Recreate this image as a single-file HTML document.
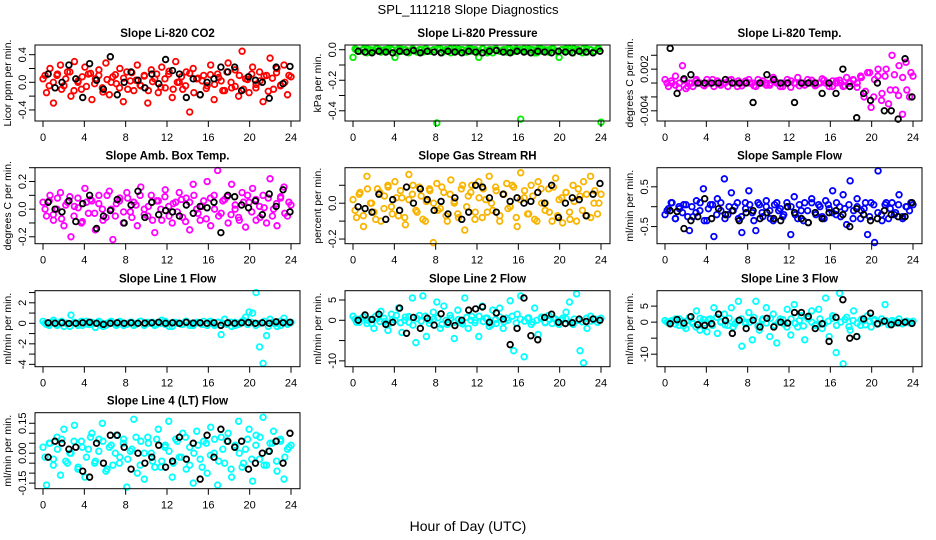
<!DOCTYPE html>
<html><head><meta charset="utf-8"><title>SPL_111218 Slope Diagnostics</title>
<style>
html,body{margin:0;padding:0;background:#fff;}
svg{display:block;font-family:"Liberation Sans",Arial,sans-serif;}
</style></head>
<body>
<svg id="chart" width="936" height="540" viewBox="0 0 936 540">
<text x="468" y="14" text-anchor="middle" font-size="13">SPL_111218  Slope Diagnostics</text>
<text x="468" y="531" text-anchor="middle" font-size="14">Hour of Day (UTC)</text>
</svg>
<script>
// ---- data ----
const hourTicks = [0, 4, 8, 12, 16, 20, 24];
const hourTickLabels = ["0", "4", "8", "12", "16", "20", "24"];

const co2Color = [0.05,-0.15,0.2,-0.3,0.1,0.25,-0.05,0.15,-0.2,0.3,0.0,-0.1,0.22,0.12,-0.25,0.05,0.18,-0.08,0.28,-0.18,0.08,-0.02,0.2,-0.28,0.15,0.02,-0.12,0.25,-0.05,0.1,-0.3,0.18,0.05,-0.15,0.22,-0.08,0.12,-0.22,0.3,0.0,-0.1,0.15,-0.43,0.2,0.05,-0.18,0.1,-0.05,0.25,-0.25,0.12,0.02,-0.12,0.28,-0.08,0.18,-0.2,0.45,0.05,-0.15,0.22,-0.03,0.15,-0.28,0.1,0.35,-0.1,0.2,-0.05,0.25,-0.18,0.08];
const co2Color2 = [0.1,-0.05,0.0,0.12,-0.1,0.05,0.15,-0.12,0.02,0.08,-0.06,0.13,-0.02,0.1,-0.14,0.04,0.0,0.11,-0.08,0.06,-0.1,0.14,0.03,-0.04,0.09,-0.12,0.01,0.12,-0.07,0.05,0.16,-0.1,0.0,0.08,-0.05,0.13,-0.15,0.06,0.02,-0.09,0.11,-0.03,0.07,-0.12,0.15,0.0,-0.06,0.1,-0.1,0.04,0.12,-0.08,0.02,0.09,-0.13,0.06,0.14,-0.04,0.0,0.1];
const co2Black = [0.12,-0.08,0.0,0.25,0.05,-0.22,0.27,0.03,-0.1,0.37,-0.18,0.0,0.15,0.03,-0.08,0.12,-0.02,0.33,0.17,0.12,-0.22,0.05,-0.18,0.0,0.05,0.22,0.15,0.22,-0.12,0.08,0.03,0.0,-0.23,0.22,-0.02,0.23];

const presColor = [-0.05,0.0,-0.01,0.005,-0.02,0.0,-0.01,0.005,-0.015,0.0,-0.01,0.005,-0.05,0.005,-0.01,0.0,-0.02,0.005,-0.01,0.0,-0.015,0.005,-0.01,0.0,-0.48,0.005,-0.01,0.0,-0.02,0.005,-0.01,0.0,-0.015,0.005,-0.01,0.0,-0.05,0.005,-0.01,0.0,-0.02,0.005,-0.01,0.0,-0.015,0.005,-0.01,0.0,-0.455,0.005,-0.01,0.0,-0.02,0.005,-0.01,0.0,-0.015,0.005,-0.01,-0.05,0.0,-0.01,0.005,-0.02,0.0,-0.01,0.005,-0.015,0.0,-0.01,0.005,-0.475];
const presColor2 = [0.005,-0.01,0.0,0.005,-0.015,0.005,0.0,-0.01,0.005,0.0,-0.02,0.005,0.0,-0.01,0.005,-0.015,0.0,0.005,-0.01,0.0,0.005,-0.02,0.0,0.005,-0.01,0.005,0.0,-0.015,0.005,0.0,-0.01,0.005,-0.02,0.0,0.005,-0.01,0.0,0.005,-0.015,0.005,0.0,-0.01,0.005,0.0,-0.02,0.005,-0.01,0.0,0.005,-0.015,0.0,0.005,-0.01,0.005,0.0,-0.02,0.005,0.0,-0.01,0.005];
const presBlack = [-0.01,-0.015,-0.02,-0.01,-0.015,-0.02,-0.01,-0.015,-0.005,-0.02,-0.01,-0.015,-0.02,-0.01,-0.015,-0.02,-0.01,-0.015,-0.02,-0.01,-0.005,-0.015,-0.02,-0.01,-0.015,-0.02,-0.01,-0.015,-0.02,-0.01,-0.015,-0.02,-0.01,-0.015,-0.02,-0.01];

const tempColor = [0.0005,-0.0005,0,0.001,-0.0007,0.0025,-0.0008,0,-0.0005,0.0005,0,-0.0003,0.0005,0,-0.0005,0.0003,0,0,-0.0005,0.0005,0,0.0003,-0.0004,0,0.0005,0,-0.0005,0,0.0003,0,-0.0003,0.0008,0,-0.0005,0,0.0005,-0.0006,0,0.0008,0,-0.0003,0,0.0004,-0.0004,0,0.0006,0,-0.0005,0.0003,0,0.0004,-0.0005,0.0008,0,0.0004,-0.0006,0.001,-0.002,0.0015,-0.0035,0.0005,0.002,-0.0025,0.001,-0.003,0.004,-0.001,0.0025,-0.0045,0.003,-0.002,0.001];
const tempColor2 = [0,0.0003,-0.0003,0,0.0004,-0.0005,0,0.0003,0,-0.0004,0,0.0005,0,-0.0003,0,0.0004,0,-0.0005,0,0.0003,0,-0.0004,0.0005,0,-0.0003,0,0.0004,0,-0.0005,0,0.0003,0,-0.0004,0,0.0005,0,-0.0003,0,0.0004,0,-0.0005,0.0003,0,-0.0004,0,0.0005,0,0.0008,-0.0012,0.0015,-0.002,0.001,-0.0015,0.002,-0.001,0.0012,-0.0018,0.0008,-0.001,0.0015];
const tempBlack = [0.005,-0.0015,0.0006,0.0012,0,0,0,0,0.0005,0,0,0,-0.0028,0,0.0012,0.0005,0,0,-0.0028,0,0,0,-0.0015,0,-0.0015,0.002,-0.0005,-0.005,-0.0015,-0.0025,0,-0.004,-0.004,-0.0052,0.0035,-0.002];

const boxColor = [0.05,-0.05,0.1,-0.08,0.0,0.12,-0.12,0.05,-0.2,0.02,0.08,-0.1,0.15,-0.03,0.06,-0.15,0.1,0.0,-0.06,0.13,-0.22,0.04,0.08,-0.1,0.12,-0.02,0.05,-0.12,0.16,0.0,-0.05,0.1,-0.17,0.06,-0.08,0.14,0.02,-0.1,0.05,0.12,-0.06,0.08,-0.15,0.18,0.0,-0.08,0.06,0.2,-0.12,0.1,0.28,-0.03,0.07,-0.1,0.18,0.0,-0.06,0.12,-0.13,0.05,0.15,-0.08,0.02,0.1,-0.1,0.22,0.0,-0.12,0.08,0.16,-0.05,0.03];
const boxColor2 = [0.0,0.06,-0.04,0.08,-0.07,0.03,0.09,-0.05,0.01,-0.09,0.05,0.07,-0.03,0.04,-0.08,0.1,0.0,-0.05,0.06,-0.02,0.08,-0.06,0.03,0.1,-0.04,0.02,-0.08,0.06,0.0,0.09,-0.05,0.04,-0.02,0.07,-0.09,0.05,0.1,-0.03,0.02,-0.07,0.08,0.0,-0.05,0.06,0.09,-0.04,0.03,-0.08,0.05,0.1,-0.02,0.07,-0.06,0.01,0.08,-0.05,0.04,0.09,-0.03,0.05];
const boxBlack = [0.05,0.0,-0.02,0.06,-0.09,0.04,0.1,-0.14,-0.05,-0.01,0.07,-0.1,0.03,0.13,-0.06,0.05,-0.04,-0.01,-0.02,-0.05,0.03,-0.03,0.02,0.01,0.05,-0.17,0.1,0.09,0.03,0.01,0.06,-0.04,0.11,0.02,0.14,-0.02];

const rhColor = [0.02,-0.08,0.06,-0.13,0.15,0.0,-0.05,0.08,-0.1,0.04,0.1,-0.02,0.12,-0.07,0.03,-0.12,0.16,0.05,-0.04,0.09,-0.09,0.01,0.07,-0.22,0.11,-0.03,0.06,-0.1,0.13,0.0,-0.06,0.08,-0.15,0.04,0.1,-0.05,0.12,-0.08,0.02,0.15,-0.04,0.07,-0.1,0.05,0.11,-0.02,0.09,-0.13,0.17,0.03,-0.06,0.1,-0.09,0.12,0.0,-0.04,0.08,-0.1,0.14,0.02,-0.11,0.06,-0.05,0.1,-0.1,0.04,0.12,-0.07,0.15,0.0,-0.06,0.05];
const rhColor2 = [-0.04,0.05,-0.07,0.08,0.0,-0.09,0.06,-0.03,0.09,-0.06,0.03,0.07,-0.08,0.02,0.1,-0.05,0.04,-0.1,0.08,0.0,-0.04,0.09,-0.07,0.05,0.01,-0.08,0.1,-0.02,0.06,-0.09,0.03,0.08,-0.05,0.0,0.09,-0.07,0.05,-0.03,0.1,-0.08,0.02,0.07,-0.06,0.04,-0.1,0.08,0.0,-0.05,0.09,-0.07,0.03,0.06,-0.09,0.01,0.08,-0.04,0.05,-0.08,0.07,0.0];
const rhBlack = [-0.02,-0.03,-0.05,0.05,-0.09,0.02,-0.04,0.09,0.0,0.08,0.02,-0.04,0.01,-0.06,0.03,-0.09,-0.05,0.1,0.09,0.03,-0.05,0.05,0.01,0.03,0.0,0.01,0.06,0.0,0.1,-0.08,0.0,0.03,0.02,-0.07,0.05,0.11];

const flowColor = [-0.2,-0.05,0.1,-0.3,0.0,-0.15,0.05,-0.6,-0.25,0.15,-0.1,0.45,-0.35,0.05,-0.75,0.2,-0.1,0.7,-0.2,0.35,0.0,-0.3,-0.65,0.1,0.4,-0.15,-0.6,0.05,-0.25,0.15,-0.1,-0.35,0.1,-0.05,-0.2,0.0,-0.7,0.25,-0.3,-0.1,0.1,-0.4,0.2,-0.15,0.05,-0.25,0.15,-0.05,0.4,-0.2,0.0,0.3,-0.45,0.65,-0.1,0.2,-0.3,-0.05,-0.7,0.1,-0.9,0.9,-0.2,0.05,-0.3,0.1,-0.15,0.3,-0.25,0.0,-0.1,0.05];
const flowColor2 = [-0.1,0.1,-0.3,-0.05,0.05,-0.25,0.0,-0.15,0.1,-0.35,-0.05,0.05,-0.2,0.1,-0.3,0.0,-0.1,0.1,-0.25,-0.05,0.05,-0.35,0.1,-0.15,0.0,-0.3,0.05,-0.1,-0.25,0.1,0.0,-0.2,0.05,-0.35,-0.1,0.1,-0.2,0.0,-0.3,0.05,-0.15,0.1,-0.25,-0.05,0.05,-0.3,0.0,-0.1,0.1,-0.25,0.05,-0.15,-0.35,0.1,-0.05,-0.2,0.05,-0.3,0.0,0.1];
const flowBlack = [-0.1,-0.12,-0.55,-0.35,-0.25,0.2,-0.3,-0.05,-0.2,-0.1,-0.35,-0.15,-0.1,-0.3,-0.15,-0.3,-0.35,0.0,-0.15,-0.3,-0.4,-0.15,-0.3,-0.15,-0.1,-0.2,-0.5,-0.05,-0.2,-0.35,-0.3,-0.1,-0.2,-0.25,-0.25,0.1];

const line1Color = [0.2,-0.1,0.0,0.3,-0.2,0.1,-0.3,0.0,0.8,0.1,-0.2,0.2,0.0,-0.1,0.1,-0.4,0.2,0.0,-0.2,0.1,0.0,-0.2,0.2,0.0,-0.1,0.1,-0.2,0.0,0.2,-0.1,0.1,0.0,-0.2,0.1,0.3,-0.1,0.0,-0.3,0.1,0.0,-0.1,0.2,0.0,-0.2,0.1,0.0,0.2,-0.2,0.0,-0.1,0.1,-1.1,0.4,0.0,-0.3,0.1,-0.1,0.2,0.6,1.1,1.0,3.0,-2.3,-3.9,-1.2,0.4,0.0,-0.3,0.2,0.5,-0.1,0.1];
const line1Color2 = [0.0,-0.2,0.1,-0.1,0.2,0.0,-0.3,0.1,0.0,-0.2,0.2,-0.1,0.0,0.1,-0.3,0.0,0.2,-0.1,0.1,-0.2,0.0,0.1,-0.1,0.2,-0.2,0.0,0.1,-0.1,0.0,0.2,-0.3,0.1,0.0,-0.1,0.2,-0.2,0.0,0.1,-0.1,0.0,0.2,-0.2,0.1,0.0,-0.1,0.1,-0.2,0.0,0.3,-0.1,0.1,-0.2,0.0,0.2,-0.3,0.1,0.0,-0.2,0.1,0.0];
const line1Black = [0.05,0.0,0.05,-0.02,0.0,0.05,0.1,0.0,-0.1,0.0,0.05,0.0,0.05,0.0,0.02,0.05,0.1,0.0,0.05,0.0,0.1,0.02,0.05,0.0,0.05,-0.2,0.05,0.0,0.05,0.08,0.0,0.05,0.0,0.15,0.05,0.1];

const line2Color = [1.0,-0.5,0.3,0.8,-0.8,0.2,-2.0,0.5,2.2,-0.3,-2.5,1.5,0.0,3.0,-3.0,0.8,-0.5,5.5,-5.5,1.2,6.0,-4.0,0.0,2.0,4.5,-2.0,3.5,-1.0,0.5,-4.5,2.5,-0.5,5.5,-2.0,1.0,0.0,-4.0,3.5,0.5,-1.5,2.5,-0.8,3.0,-2.0,0.5,4.8,-7.5,1.5,6.0,-9.0,0.5,-1.0,3.0,-3.5,0.8,-0.5,1.2,-0.8,0.3,-1.0,0.5,2.0,4.5,-1.0,6.5,-7.5,-10.5,-2.0,1.0,0.3,-0.5,0.5];
const line2Color2 = [0.3,-0.5,0.8,0.0,-0.8,1.0,-0.3,0.5,-1.0,0.2,1.2,-0.6,0.0,0.9,-1.2,0.4,-0.2,1.0,-0.8,0.3,0.6,-1.0,0.0,1.2,-0.5,0.2,-0.9,0.7,0.0,-0.6,1.0,-0.3,0.5,-1.1,0.2,0.8,-0.4,0.0,1.0,-0.7,0.3,-0.2,0.6,-0.5,0.0,0.4,-0.6,0.2,0.5,-0.3,0.0,0.4,-0.5,0.3,0.0,-0.4,0.5,-0.2,0.3,0.0];
const line2Black = [0.0,1.3,0.2,1.5,-1.0,-0.5,3.0,-3.2,0.7,-2.0,0.5,-1.2,1.6,-0.5,-1.3,0.0,2.5,2.8,3.3,-0.5,1.8,0.3,-6.0,-2.0,5.5,-3.8,-4.8,0.7,1.5,-0.5,-0.8,-0.6,0.3,-0.3,0.3,0.0];

const line3Color = [0.5,-0.3,0.2,1.0,-1.0,0.3,-2.0,1.5,-0.5,3.5,-2.5,0.8,-3.0,1.0,4.5,-3.5,0.2,2.5,-1.0,4.5,-0.5,6.5,-7.5,0.0,3.0,-5.5,6.5,-2.5,1.0,4.5,-4.5,2.5,-6.5,1.0,-0.5,4.0,-4.0,5.5,-1.5,2.0,-5.5,1.0,3.5,-1.0,4.0,-2.0,7.5,-4.5,2.0,-9.5,9.0,-13.0,1.5,-2.5,3.5,-4.5,-1.0,0.5,2.0,-1.5,0.8,-0.5,1.0,5.5,-0.8,0.5,-0.3,1.0,-0.5,0.2,-0.2,0.3];
const line3Color2 = [0.0,0.4,-0.6,1.0,-1.2,0.5,0.0,-1.5,1.2,-0.3,0.8,-1.0,1.5,0.0,-0.8,1.2,-1.5,0.3,1.0,-0.5,0.0,1.5,-1.2,0.6,-0.3,1.2,-1.0,0.0,0.8,-1.5,1.0,-0.4,0.5,-1.2,1.4,0.0,-0.8,1.0,-0.5,0.3,1.2,-1.0,0.0,0.8,-1.4,0.5,-0.3,0.9,-0.8,0.2,0.5,-0.6,0.0,0.4,-0.5,0.3,0.0,-0.4,0.3,0.0];
const line3Black = [-0.5,0.8,-0.3,1.7,-0.8,-1.0,-0.5,2.5,0.5,-3.5,0.6,-2.0,0.6,-1.5,1.2,-1.5,0.0,-0.3,3.0,3.0,1.8,-2.0,-0.5,-6.0,1.5,7.0,-5.0,-4.5,1.0,2.8,-0.5,0.3,-0.8,-0.2,0.0,-0.4];

const line4Color = [0.03,-0.16,0.05,-0.03,0.08,-0.11,0.12,-0.05,0.0,0.14,-0.08,0.06,-0.12,0.02,0.1,-0.04,0.07,0.15,-0.09,0.03,-0.06,0.09,-0.02,0.05,-0.17,0.01,0.17,-0.1,0.06,-0.13,0.08,0.0,-0.07,0.12,-0.04,0.04,0.16,-0.12,0.07,-0.02,0.1,-0.08,0.03,-0.15,0.11,-0.03,0.06,-0.1,0.13,0.0,-0.16,0.08,-0.05,0.1,-0.12,0.04,0.16,-0.07,0.02,0.12,-0.14,0.09,-0.03,0.18,-0.06,0.05,0.11,-0.09,0.07,-0.13,0.02,0.04];
const line4Color2 = [-0.02,0.05,-0.06,0.02,0.07,-0.04,0.0,0.06,-0.07,0.03,-0.02,0.08,-0.05,0.01,0.06,-0.08,0.04,0.0,-0.05,0.07,-0.03,0.02,0.08,-0.06,0.0,0.05,-0.04,0.07,-0.07,0.03,0.01,-0.05,0.06,-0.02,0.08,-0.06,0.0,0.04,-0.07,0.05,-0.01,0.07,-0.04,0.02,0.06,-0.08,0.03,0.0,-0.05,0.07,-0.03,0.04,0.08,-0.06,0.01,0.05,-0.04,0.06,-0.02,0.03];
const line4Black = [-0.02,0.06,0.05,0.02,0.03,-0.09,-0.12,0.05,-0.05,0.09,0.09,0.03,-0.08,0.0,-0.05,-0.02,0.04,-0.07,-0.04,0.08,-0.03,0.05,-0.13,0.09,-0.02,0.12,0.06,0.03,0.06,-0.08,-0.05,0.0,0.01,0.06,-0.05,0.1];

// ---- panel layout ----
const colLeft = [35, 345, 657];
const rowTop = [45, 167.7, 290.7, 412.7];
const boxW = 265, boxH = 76;

const panels = [
 {name:"co2", title:"Slope Li-820 CO2", ylab:"Licor ppm per min.", col:0,row:0, dom:[-0.56,0.54], ticks:[-0.4,-0.2,0,0.2,0.4], labels:[[-0.4,"-0.4"],[0,"0.0"],[0.4,"0.4"]], color:"#ff0000", c:co2Color, c2:co2Color2, b:co2Black},
 {name:"pressure", title:"Slope Li-820 Pressure", ylab:"kPa per min.", col:1,row:0, dom:[-0.467,0.031], ticks:[-0.4,-0.3,-0.2,-0.1,0], labels:[[-0.4,"-0.4"],[-0.2,"-0.2"],[0,"0.0"]], color:"#00ee00", c:presColor, c2:presColor2, b:presBlack},
 {name:"temp", title:"Slope Li-820 Temp.", ylab:"degrees C per min.", col:2,row:0, dom:[-0.00547,0.00548], ticks:[-0.004,-0.002,0,0.002,0.004], labels:[[-0.004,"-0.004"],[0.002,"0.002"]], color:"#ff00ff", c:tempColor, c2:tempColor2, b:tempBlack},
 {name:"amb-box-temp", title:"Slope Amb. Box Temp.", ylab:"degrees C per min.", col:0,row:1, dom:[-0.25,0.30], ticks:[-0.2,-0.1,0,0.1,0.2,0.3], labels:[[-0.2,"-0.2"],[0,"0.0"],[0.2,"0.2"]], color:"#ff00ff", c:boxColor, c2:boxColor2, b:boxBlack},
 {name:"gas-stream-rh", title:"Slope Gas Stream RH", ylab:"percent per min.", col:1,row:1, dom:[-0.226,0.198], ticks:[-0.2,-0.1,0,0.1], labels:[[-0.2,"-0.2"],[0,"0.0"]], color:"#f8b400", c:rhColor, c2:rhColor2, b:rhBlack},
 {name:"sample-flow", title:"Slope Sample Flow", ylab:"ml/min per min.", col:2,row:1, dom:[-0.93,0.98], ticks:[-0.5,0,0.5], labels:[[-0.5,"-0.5"],[0.5,"0.5"]], color:"#0000ff", c:flowColor, c2:flowColor2, b:flowBlack},
 {name:"line1-flow", title:"Slope Line 1 Flow", ylab:"ml/min per min.", col:0,row:2, dom:[-4.23,3.18], ticks:[-4,-3,-2,-1,0,1,2,3], labels:[[-4,"-4"],[-2,"-2"],[0,"0"],[2,"2"]], color:"#00ffff", c:line1Color, c2:line1Color2, b:line1Black},
 {name:"line2-flow", title:"Slope Line 2 Flow", ylab:"ml/min per min.", col:1,row:2, dom:[-11.44,7.29], ticks:[-10,-5,0,5], labels:[[-10,"-10"],[0,"0"],[5,"5"]], color:"#00ffff", c:line2Color, c2:line2Color2, b:line2Black},
 {name:"line3-flow", title:"Slope Line 3 Flow", ylab:"ml/min per min.", col:2,row:2, dom:[-13.9,9.81], ticks:[-10,-5,0,5], labels:[[-10,"-10"],[0,"0"],[5,"5"]], color:"#00ffff", c:line3Color, c2:line3Color2, b:line3Black},
 {name:"line4-flow", title:"Slope Line 4 (LT) Flow", ylab:"ml/min per min.", col:0,row:3, dom:[-0.178,0.203], ticks:[-0.15,-0.1,-0.05,0,0.05,0.1,0.15], labels:[[-0.15,"-0.15"],[0,"0.00"],[0.15,"0.15"]], color:"#00ffff", c:line4Color, c2:line4Color2, b:line4Black}
];

const NS = "http://www.w3.org/2000/svg";
const svg = document.getElementById("chart");
function mk(tag, attrs, parent){ const e=document.createElementNS(NS,tag); for(const k in attrs) e.setAttribute(k,attrs[k]); parent.appendChild(e); return e; }

panels.forEach(p => {
  const L = colLeft[p.col], T = rowTop[p.row];
  const xScale = h => L + 8 + h * (248/24);
  const yScale = v => T + boxH - (v - p.dom[0]) / (p.dom[1] - p.dom[0]) * boxH;
  const g = mk("g", {}, svg);
  
  

  const t = mk("text", {x: L + boxW/2, y: T - 8, "text-anchor":"middle", "font-size":"11.5", "font-weight":"bold"}, g);
  t.textContent = p.title;
  
  

  const yl = mk("text", {x: 0, y: 0, transform:`translate(${L-24},${T+boxH/2}) rotate(-90)`, "text-anchor":"middle", "font-size":"10.5"}, g);
  yl.textContent = p.ylab;
  
  

  const pts = mk("g", {fill:"none", "stroke-width":"1.8"}, g);
  
  
  p.c.forEach((v, i) => {
    const h = i * 24 / (p.c.length - 1);
    const c = mk("circle", {cx: xScale(h), cy: yScale(v), r: 2.8, stroke: p.color}, pts);
    
    
  });
  p.c2.forEach((v, i) => {
    const h = 0.2 + i * 23.6 / (p.c2.length - 1);
    const c = mk("circle", {cx: xScale(h), cy: yScale(v), r: 2.8, stroke: p.color}, pts);
    
    
  });
  p.b.forEach((v, i) => {
    const h = 0.5 + i * 23.4 / (p.b.length - 1);
    const c = mk("circle", {cx: xScale(h), cy: yScale(v), r: 2.8, stroke: "#000"}, pts);
    
    
  });

  const box = mk("rect", {x: L, y: T, width: boxW, height: boxH, fill:"none", stroke:"#000", "stroke-width":"1"}, g);
  
  

  hourTicks.forEach((h, i) => {
    const x = xScale(h);
    const tk = mk("line", {x1:x, x2:x, y1:T+boxH, y2:T+boxH+6, stroke:"#000"}, g);
    
    
    const lb = mk("text", {x:x, y:T+boxH+20, "text-anchor":"middle", "font-size":"11"}, g);
    lb.textContent = hourTickLabels[i];
    
    
  });
  p.ticks.forEach(v => {
    const y = yScale(v);
    const tk = mk("line", {x1:L-6, x2:L, y1:y, y2:y, stroke:"#000"}, g);
    
    
  });
  p.labels.forEach(([v, s]) => {
    const y = yScale(v);
    const lb = mk("text", {x:0, y:0, transform:`translate(${L-9},${y}) rotate(-90)`, "text-anchor":"middle", "font-size":"11"}, g);
    lb.textContent = s;
    
    
  });
});
</script>
</body></html>
